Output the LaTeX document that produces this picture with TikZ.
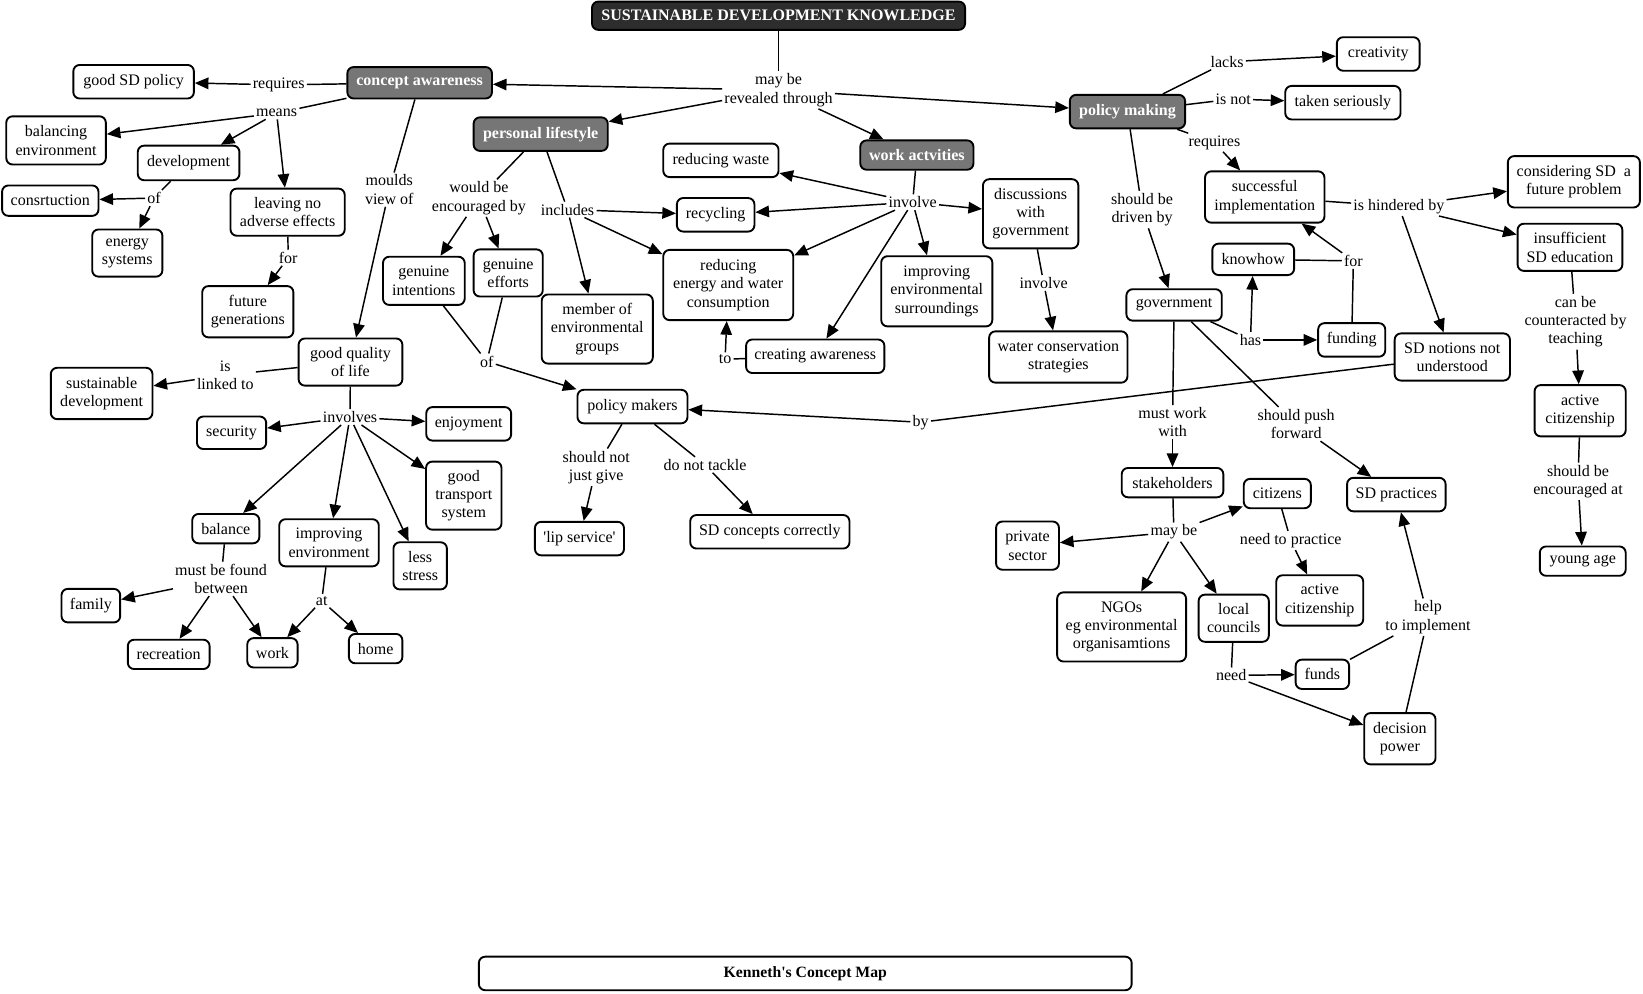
\documentclass[tikz,border=0pt]{standalone}
\usepackage{fontspec}
\setmainfont{Liberation Serif}
\usetikzlibrary{arrows.meta}
\definecolor{hdr}{RGB}{118,118,118}
\definecolor{ttl}{RGB}{45,45,45}
\begin{document}
\begin{tikzpicture}[x=1pt,y=-1pt,
  every node/.style={font=\rmfamily\fontsize{15.3}{17.5}\selectfont, align=center},
  cbox/.style={draw, line width=1.8pt, rounded corners=6pt, fill=white, inner sep=2pt},
  hbox/.style={cbox, fill=hdr, text=white, font=\rmfamily\fontsize{15.3}{17.5}\selectfont\bfseries},
  tbox/.style={cbox, fill=ttl, text=white, font=\rmfamily\fontsize{15.3}{17.5}\selectfont\bfseries},
  sz/.style 2 args={minimum width=#1pt, minimum height=#2pt},
  lbl/.style={inner sep=2pt},
  con/.style={line width=1.4pt},
  arr/.style={con, -{Triangle[length=13pt,width=11pt]}},
]
\useasboundingbox (0,0) rectangle (1568,948);

% ---------- boxes ----------
\node[tbox, sz={356}{27}] (title) at (743,15) {SUSTAINABLE DEVELOPMENT KNOWLEDGE};
\node[hbox, sz={138}{30}] (ca) at (400.5,79) {concept awareness};
\node[cbox, sz={115}{32}] (goodsd) at (127.5,78) {good SD policy};
\node[cbox, sz={95}{46}] (balenv) at (53.5,134) {balancing\\environment};
\node[cbox, sz={97}{33}] (dev) at (180,155.5) {development};
\node[cbox, sz={92}{29}] (constr) at (48,191.5) {consrtuction};
\node[cbox, sz={67}{45}] (energy) at (121.5,241.5) {energy\\systems};
\node[cbox, sz={109}{45}] (leaving) at (274.5,202.5) {leaving no\\adverse effects};
\node[cbox, sz={87}{49}] (futgen) at (236.5,297.5) {future\\generations};
\node[cbox, sz={99}{45}] (gql) at (334.5,345.5) {good quality\\of life};
\node[cbox, sz={97}{49}] (susdev) at (97,375.5) {sustainable\\development};
\node[cbox, sz={66}{31}] (security) at (221,413) {security};
\node[cbox, sz={81}{32}] (enjoy) at (447.3,404.5) {enjoyment};
\node[cbox, sz={72}{65}] (transport) at (442.6,473) {good\\transport\\system};
\node[cbox, sz={64}{28}] (balance) at (215.5,504.5) {balance};
\node[cbox, sz={95}{45}] (impenv) at (314,518) {improving\\environment};
\node[cbox, sz={51}{45}] (lessstress) at (401,540) {less\\stress};
\node[cbox, sz={56}{32}] (family) at (86.7,578) {family};
\node[cbox, sz={78}{28}] (recreation) at (161,624.5) {recreation};
\node[cbox, sz={48}{28}] (work) at (260,623) {work};
\node[cbox, sz={51}{28}] (home) at (358.5,619) {home};

\node[hbox, sz={128}{32}] (pl) at (516,128) {personal lifestyle};
\node[cbox, sz={78}{46}] (genint) at (404.5,268) {genuine\\intentions};
\node[cbox, sz={66}{45}] (geneff) at (485,260.5) {genuine\\efforts};
\node[cbox, sz={106}{66}] (member) at (570,314) {member of\\environmental\\groups};
\node[cbox, sz={110}{32}] (redwaste) at (688,153) {reducing waste};
\node[cbox, sz={74}{32}] (recycling) at (683,205) {recycling};
\node[cbox, sz={124}{67}] (redenergy) at (695,272) {reducing\\energy and water\\consumption};
\node[hbox, sz={108}{28}] (wa) at (875,148) {work actvities};
\node[cbox, sz={106}{67}] (impsurr) at (894,278) {improving\\environmental\\surroundings};
\node[cbox, sz={91}{66}] (discussions) at (983.6,204) {discussions\\with\\government};
\node[cbox, sz={132}{32}] (creating) at (778,340) {creating awareness};
\node[cbox, sz={132}{49}] (water) at (1010,340.7) {water conservation\\strategies};
\node[cbox, sz={105}{32}] (polmakers) at (603.6,388) {policy makers};
\node[cbox, sz={85}{32}] (lip) at (553,514) {\textquotesingle lip service\textquotesingle};
\node[cbox, sz={152}{32}] (sdconc) at (734.7,507.5) {SD concepts correctly};

\node[hbox, sz={110}{32}] (pm) at (1076,106.5) {policy making};
\node[cbox, sz={79}{32}] (creativity) at (1315.3,51.5) {creativity};
\node[cbox, sz={110}{32}] (taken) at (1281.6,98) {taken seriously};
\node[cbox, sz={114}{49}] (succimpl) at (1207,188) {successful\\implementation};
\node[cbox, sz={126}{49}] (considering) at (1502,173.5) {considering SD\ \ a\\future problem};
\node[cbox, sz={100}{45}] (insufficient) at (1498.3,236) {insufficient\\SD education};
\node[cbox, sz={78}{30}] (knowhow) at (1196,247.5) {knowhow};
\node[cbox, sz={91}{30}] (government) at (1120.5,291) {government};
\node[cbox, sz={64}{32}] (funding) at (1290,324.4) {funding};
\node[cbox, sz={110}{45}] (sdnotions) at (1386,340.7) {SD notions not\\understood};
\node[cbox, sz={87}{49}] (activecit1) at (1508,392) {active\\citizenship};
\node[cbox, sz={82}{28}] (youngage) at (1510.5,535.5) {young age};
\node[cbox, sz={97}{28}] (stakeholders) at (1119,460.6) {stakeholders};
\node[cbox, sz={64}{28}] (citizens) at (1219,471) {citizens};
\node[cbox, sz={94}{32}] (sdpractices) at (1332.6,472) {SD practices};
\node[cbox, sz={60}{46}] (private) at (980.6,520.7) {private\\sector};
\node[cbox, sz={123}{66}] (ngos) at (1070.4,598.3) {NGOs\\eg environmental\\organisamtions};
\node[cbox, sz={67}{45}] (localc) at (1177.4,590) {local\\councils};
\node[cbox, sz={83}{48}] (activecit2) at (1259.5,573) {active\\citizenship};
\node[cbox, sz={51}{28}] (funds) at (1262,643.5) {funds};
\node[cbox, sz={68}{49}] (decision) at (1336,705) {decision\\power};

\node[cbox, sz={623}{32}, font=\rmfamily\fontsize{15}{17}\selectfont\bfseries] (kenneth) at (768.5,929) {Kenneth\textquotesingle s Concept Map};

% ---------- linking phrases ----------
\node[lbl] (maybe) at (743,86) {may be\\revealed through};
\node[lbl] (requires1) at (266,81) {requires};
\node[lbl] (means) at (264,108) {means};
\node[lbl] (of1) at (147,189) {of};
\node[lbl] (for1) at (275,246) {for};
\node[lbl] (moulds) at (371.5,181) {moulds\\view of};
\node[lbl] (islinked) at (215,358) {is\\linked to};
\node[lbl] (involves) at (334,398) {involves};
\node[lbl] (mustbe) at (211,552.5) {must be found\\between};
\node[lbl] (at) at (307,573.4) {at};
\node[lbl] (wouldbe) at (457,189) {would be\\encouraged by};
\node[lbl] (of2) at (464.6,345) {of};
\node[lbl] (includes) at (541.6,200) {includes};
\node[lbl] (involve1) at (871,193) {involve};
\node[lbl] (to) at (692,342.8) {to};
\node[lbl] (involve2) at (996,270) {involve};
\node[lbl] (lacks) at (1171,59) {lacks};
\node[lbl] (isnot) at (1177,94.5) {is not};
\node[lbl] (requires2) at (1159,136) {requires};
\node[lbl] (drivenby) at (1090,200) {should be\\driven by};
\node[lbl] (hindered) at (1335,197) {is hindered by};
\node[lbl] (by) at (878.6,403) {by};
\node[lbl] (shouldnot) at (569,446) {should not\\just give};
\node[lbl] (donot) at (672.8,443.6) {do not tackle};
\node[lbl] (counter) at (1503.6,307) {can be\\counteracted by\\teaching};
\node[lbl] (encat) at (1506,459.4) {should be\\encouraged at};
\node[lbl] (has) at (1193.4,324.4) {has};
\node[lbl] (for2) at (1291.6,249) {for};
\node[lbl] (mustwork) at (1119,403) {must work\\with};
\node[lbl] (shouldpush) at (1237,404.7) {should push\\forward};
\node[lbl] (maybe2) at (1120.3,507.8) {may be};
\node[lbl] (needto) at (1231.8,515.8) {need to practice};
\node[lbl] (need) at (1175,644.6) {need};
\node[lbl] (help) at (1362.8,589) {help\\to implement};

% ---------- connectors ----------
\draw[con] (title) -- (maybe);
\draw[arr] (maybe) -- (ca);
\draw[arr] (maybe) -- (pl);
\draw[arr] (maybe) -- (wa);
\draw[arr] (maybe) -- (pm);

\draw[con] (ca) -- (requires1);
\draw[arr] (requires1) -- (goodsd);
\draw[con] (ca) -- (means);
\draw[arr] (means) -- (balenv);
\draw[arr] (means) -- (dev);
\draw[arr] (means) -- (leaving);
\draw[con] (dev) -- (of1);
\draw[arr] (of1) -- (constr);
\draw[arr] (of1) -- (energy);
\draw[con] (leaving) -- (for1);
\draw[arr] (for1) -- (futgen);
\draw[con] (ca) -- (moulds);
\draw[arr] (moulds) -- (gql);
\draw[con] (gql) -- (islinked);
\draw[arr] (islinked) -- (susdev);
\draw[con] (gql) -- (involves);
\draw[arr] (involves) -- (security);
\draw[arr] (involves) -- (enjoy);
\draw[arr] (involves) -- (transport);
\draw[arr] (involves) -- (lessstress);
\draw[arr] (involves) -- (impenv);
\draw[arr] (involves) -- (balance);
\draw[con] (balance) -- (mustbe);
\draw[arr] (mustbe) -- (family);
\draw[arr] (mustbe) -- (recreation);
\draw[arr] (mustbe) -- (work);
\draw[con] (impenv) -- (at);
\draw[arr] (at) -- (work);
\draw[arr] (at) -- (home);

\draw[con] (pl) -- (wouldbe);
\draw[arr] (wouldbe) -- (genint);
\draw[arr] (wouldbe) -- (geneff);
\draw[con] (genint) -- (of2);
\draw[con] (geneff) -- (of2);
\draw[arr] (of2) -- (polmakers);
\draw[con] (pl) -- (includes);
\draw[arr] (includes) -- (recycling);
\draw[arr] (includes) -- (redenergy);
\draw[arr] (includes) -- (member);

\draw[con] (wa) -- (involve1);
\draw[arr] (involve1) -- (redwaste);
\draw[arr] (involve1) -- (recycling);
\draw[arr] (involve1) -- (redenergy);
\draw[arr] (involve1) -- (creating);
\draw[arr] (involve1) -- (impsurr);
\draw[arr] (involve1) -- (discussions);
\draw[con] (creating) -- (to);
\draw[arr] (to) -- (redenergy);
\draw[con] (discussions) -- (involve2);
\draw[arr] (involve2) -- (water);

\draw[con] (polmakers) -- (shouldnot);
\draw[arr] (shouldnot) -- (lip);
\draw[con] (polmakers) -- (donot);
\draw[arr] (donot) -- (sdconc);

\draw[con] (pm) -- (lacks);
\draw[arr] (lacks) -- (creativity);
\draw[con] (pm) -- (isnot);
\draw[arr] (isnot) -- (taken);
\draw[con] (pm) -- (requires2);
\draw[arr] (requires2) -- (succimpl);
\draw[con] (pm) -- (drivenby);
\draw[arr] (drivenby) -- (government);
\draw[con] (succimpl) -- (hindered);
\draw[arr] (hindered) -- (considering);
\draw[arr] (hindered) -- (insufficient);
\draw[arr] (hindered) -- (sdnotions);
\draw[con] (sdnotions) -- (by);
\draw[arr] (by) -- (polmakers);
\draw[con] (insufficient) -- (counter);
\draw[arr] (counter) -- (activecit1);
\draw[con] (activecit1) -- (encat);
\draw[arr] (encat) -- (youngage);
\draw[con] (government) -- (has);
\draw[arr] (has) -- (funding);
\draw[arr] (has) -- (knowhow);
\draw[con] (knowhow) -- (for2);
\draw[con] (funding) -- (for2);
\draw[arr] (for2) -- (succimpl);
\draw[con] (government) -- (mustwork);
\draw[arr] (mustwork) -- (stakeholders);
\draw[con] (government) -- (shouldpush);
\draw[arr] (shouldpush) -- (sdpractices);
\draw[con] (stakeholders) -- (maybe2);
\draw[arr] (maybe2) -- (citizens);
\draw[arr] (maybe2) -- (private);
\draw[arr] (maybe2) -- (ngos);
\draw[arr] (maybe2) -- (localc);
\draw[con] (citizens) -- (needto);
\draw[arr] (needto) -- (activecit2);
\draw[con] (localc) -- (need);
\draw[arr] (need) -- (funds);
\draw[arr] (need) -- (decision);
\draw[con] (funds) -- (help);
\draw[con] (decision) -- (help);
\draw[arr] (help) -- (sdpractices);
\end{tikzpicture}
\end{document}
